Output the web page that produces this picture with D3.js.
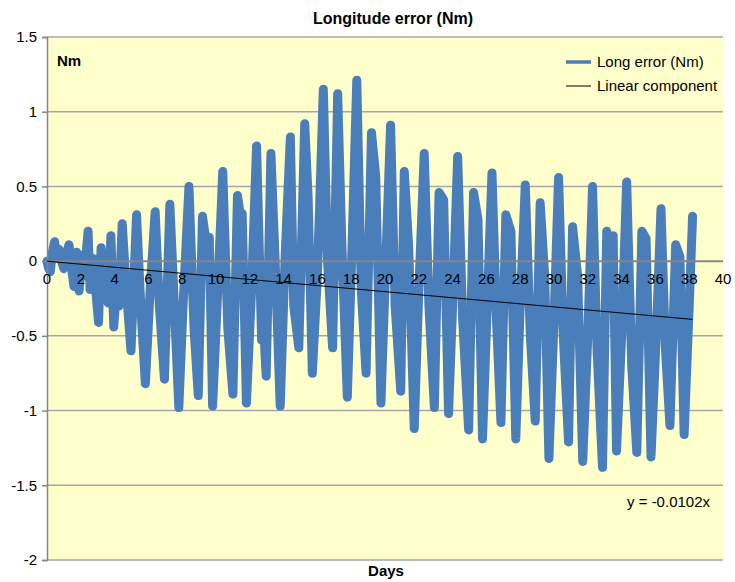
<!DOCTYPE html>
<html>
<head>
<meta charset="utf-8">
<script src="https://cdn.jsdelivr.net/npm/d3@7"></script>
<style>
  body { margin: 0; background: #fff; }
  svg { display: block; font-family: 'Liberation Sans', Arial, sans-serif; }
</style>
</head>
<body>
<script>
'use strict';

// axis ticks
const dayTicks = [0, 2, 4, 6, 8, 10, 12, 14, 16, 18, 20, 22, 24, 26, 28, 30, 32, 34, 36, 38, 40];
const valueTicks = [1.5, 1, 0.5, 0, -0.5, -1, -1.5, -2];

// longitude error, turning points (days, Nm)
const errDays = [
  0, 0.1, 0.2, 0.3, 0.45, 0.55, 0.7, 0.85, 1.0, 1.15, 1.3, 1.45, 1.6, 1.75, 1.9,
  2.05, 2.2, 2.43, 2.55, 2.7, 2.85, 3.05, 3.2, 3.35, 3.5, 3.62, 3.78, 3.95,
  4.15, 4.25, 4.45, 4.7, 4.97, 5.3, 5.55, 5.82,
  6.1, 6.4, 6.65, 6.95, 7.27, 7.5, 7.8, 8.05, 8.4, 8.7, 8.95, 9.2, 9.45, 9.6,
  9.8, 10.1, 10.4, 10.7, 11.0, 11.27, 11.45, 11.55, 11.8, 12.1, 12.4, 12.7,
  12.8, 12.97, 13.25, 13.5, 13.8, 14.1, 14.4, 14.6, 14.9, 15.25, 15.45, 15.7,
  16.0, 16.35, 16.6, 16.9, 17.2, 17.45, 17.77, 18.05, 18.33, 18.6, 18.88,
  19.2, 19.45, 19.76, 20.05, 20.33, 20.6, 20.93, 21.14, 21.4, 21.73, 22.0,
  22.32, 22.6, 22.92, 23.2, 23.47, 23.76, 24.0, 24.3, 24.6, 24.95, 25.24,
  25.5, 25.77, 26.05, 26.33, 26.6, 26.86, 27.15, 27.45, 27.74, 28.0, 28.3,
  28.6, 28.89, 29.18, 29.45, 29.7, 30.0, 30.27, 30.55, 30.86, 31.1, 31.4,
  31.7, 32.0, 32.28, 32.55, 32.87, 33.12, 33.3, 33.5, 33.7, 34.0, 34.3, 34.6,
  34.9, 35.2, 35.45, 35.74, 36.05, 36.33, 36.6, 36.86, 37.2, 37.45, 37.7,
  38.0, 38.2
];
const errValues = [
  0, -0.05, -0.07, 0.05, 0.13, 0.02, 0.08, 0.0, -0.05, 0.05, 0.11, -0.04, -0.17, 0.06, -0.2,
  0.04, -0.1, 0.2, -0.19, 0.02, -0.15, -0.41, 0.09, -0.22, 0.05, -0.28, 0.17, -0.44,
  -0.12, -0.3, 0.25, -0.2, -0.6, 0.31, -0.3, -0.82,
  -0.2, 0.33, -0.3, -0.79, 0.38, -0.2, -0.98, -0.3, 0.5, -0.45, -0.9, 0.3, 0.1, 0.16,
  -0.97, -0.2, 0.6, -0.45, -0.89, 0.44, 0.3, 0.32, -0.95, -0.2, 0.77, -0.53,
  -0.4, -0.77, 0.72, 0.0, -0.97, 0.06, 0.83, -0.3, -0.58, 0.92, 0.43, -0.75,
  -0.1, 1.15, 0.0, -0.58, 1.12, 0.1, -0.91, 0.1, 1.21, -0.2, -0.75,
  0.86, 0.57, -0.95, 0.0, 0.91, -0.3, -0.87, 0.6, 0.1, -1.12, -0.2,
  0.72, -0.3, -0.98, 0.46, 0.41, -1.02, -0.3, 0.7, -0.4, -1.13, 0.46,
  0.28, -1.19, -0.3, 0.59, -0.4, -1.08, 0.31, 0.2, -1.19, -0.3, 0.51,
  -0.5, -1.07, 0.39, -0.1, -1.32, -0.4, 0.56, -0.5, -1.21, 0.23, -0.1,
  -1.34, -0.5, 0.5, -0.6, -1.38, 0.2, -0.1, 0.17, -1.27, -0.5, 0.53, -0.7,
  -1.28, 0.2, 0.15, -1.31, -0.5, 0.35, -0.6, -1.1, 0.11, 0.03, -1.16,
  -0.3, 0.3
];

// linear component (y = -0.0102x)
const trendDays = [0, 38.2];
const trendValues = [0, -0.39];

const width = 735;
const height = 582;
const plot = { left: 47, right: 723, top: 37, bottom: 560 };

const svg = d3.select('body')
  .append('svg')
  .attr('width', width)
  .attr('height', height);

const xScale = d3.scaleLinear().domain([0, 40]).range([plot.left, plot.right]);
const yScale = d3.scaleLinear().domain([-2, 1.5]).range([plot.bottom, plot.top]);

// plot background
svg.append('rect')
  .attr('x', plot.left)
  .attr('y', plot.top)
  .attr('width', plot.right - plot.left)
  .attr('height', plot.bottom - plot.top)
  .attr('fill', '#ffffcc');

// horizontal gridlines
svg.append('g')
  .selectAll('line')
  .data(valueTicks.filter(v => v !== 0))
  .enter()
  .append('line')
  .attr('x1', plot.left)
  .attr('x2', plot.right)
  .attr('y1', d => yScale(d))
  .attr('y2', d => yScale(d))
  .attr('stroke', '#a6a6a6')
  .attr('stroke-width', 1.5);

// error series (thick stroke stands in for the dense fast oscillation)
const line = d3.line()
  .x((d, i) => xScale(errDays[i]))
  .y(d => yScale(d));

svg.append('path')
  .datum(errValues)
  .attr('fill', 'none')
  .attr('stroke', '#4a7ebb')
  .attr('stroke-width', 9)
  .attr('stroke-linejoin', 'round')
  .attr('stroke-linecap', 'round')
  .attr('d', line);

// x axis sits on the zero line, drawn over the series
svg.append('line')
  .attr('x1', plot.left)
  .attr('x2', plot.right)
  .attr('y1', yScale(0))
  .attr('y2', yScale(0))
  .attr('stroke', '#868686')
  .attr('stroke-width', 2);

// y axis with outside ticks
const yAxis = d3.axisLeft(yScale)
  .tickValues(valueTicks)
  .tickSize(5)
  .tickPadding(5)
  .tickFormat(d => String(d));
const yAxisG = svg.append('g')
  .attr('transform', 'translate(' + plot.left + ',0)')
  .call(yAxis);
yAxisG.select('.domain').attr('stroke', '#868686').attr('stroke-width', 1.5);
yAxisG.selectAll('.tick line').attr('stroke', '#868686').attr('stroke-width', 1.5);
yAxisG.selectAll('.tick text')
  .attr('fill', '#000')
  .style('font-size', '15px')
  .style('font-family', "'Liberation Sans', Arial, sans-serif");

// linear component
svg.append('path')
  .datum(trendValues)
  .attr('fill', 'none')
  .attr('stroke', '#000')
  .attr('stroke-width', 1)
  .attr('d', d3.line().x((d, i) => xScale(trendDays[i])).y(d => yScale(d)));

// x tick labels below the zero line
svg.append('g')
  .selectAll('text')
  .data(dayTicks)
  .enter()
  .append('text')
  .attr('x', d => xScale(d))
  .attr('y', yScale(0) + 23)
  .attr('text-anchor', 'middle')
  .style('font-size', '15px')
  .text(d => d);

// title and labels
svg.append('text')
  .attr('x', 393)
  .attr('y', 24)
  .attr('text-anchor', 'middle')
  .style('font-size', '16px')
  .style('font-weight', 'bold')
  .text('Longitude error (Nm)');

svg.append('text')
  .attr('x', 57)
  .attr('y', 66)
  .style('font-size', '15px')
  .style('font-weight', 'bold')
  .text('Nm');

svg.append('text')
  .attr('x', 386)
  .attr('y', 576)
  .attr('text-anchor', 'middle')
  .style('font-size', '15px')
  .style('font-weight', 'bold')
  .text('Days');

svg.append('text')
  .attr('x', 710)
  .attr('y', 507)
  .attr('text-anchor', 'end')
  .style('font-size', '15px')
  .text('y = -0.0102x');

// legend
const legend = [
  { label: 'Long error (Nm)', color: '#4a7ebb', w: 3.5, y: 62 },
  { label: 'Linear component', color: '#000', w: 1, y: 86 }
];
const legendG = svg.append('g');
legendG.selectAll('line')
  .data(legend)
  .enter()
  .append('line')
  .attr('x1', 566)
  .attr('x2', 591)
  .attr('y1', d => d.y)
  .attr('y2', d => d.y)
  .attr('stroke', d => d.color)
  .attr('stroke-width', d => d.w);
legendG.selectAll('text')
  .data(legend)
  .enter()
  .append('text')
  .attr('x', 597)
  .attr('y', d => d.y + 5)
  .style('font-size', '15px')
  .text(d => d.label);
</script>
</body>
</html>
